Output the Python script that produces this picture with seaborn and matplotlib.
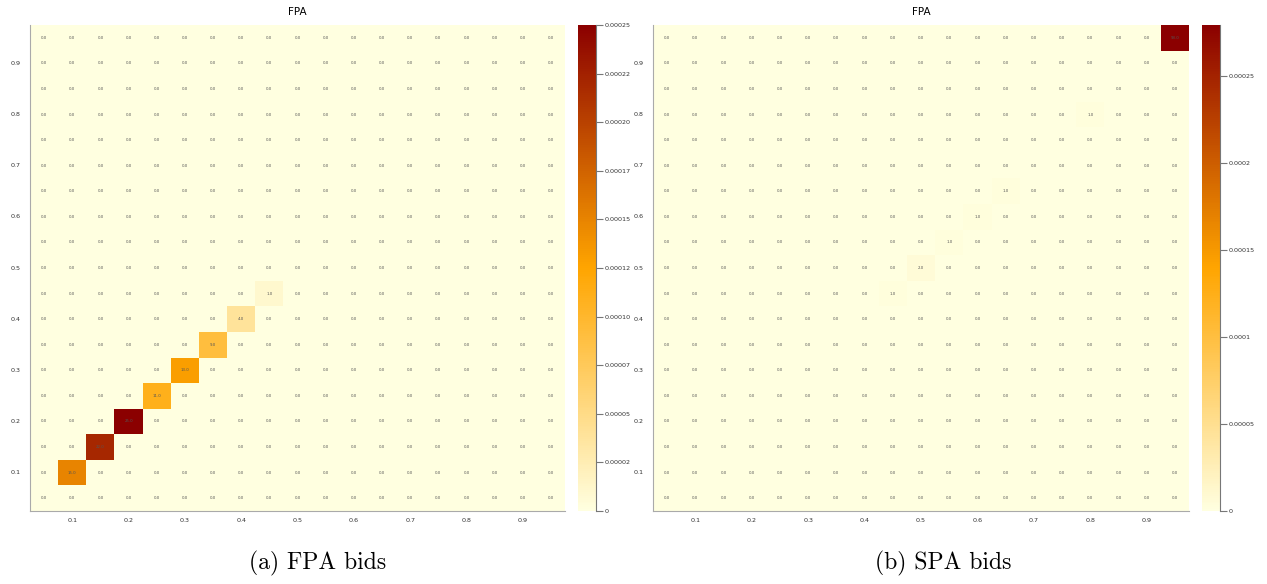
import numpy as np
import pandas as pd
import seaborn as sns
import matplotlib.pyplot as plt
from matplotlib.colors import LinearSegmentedColormap
from matplotlib.ticker import FuncFormatter

# bin centres (same on both axes)
bins = [0.05, 0.1, 0.15, 0.2, 0.25, 0.3, 0.35, 0.4, 0.45, 0.5,
        0.55, 0.6, 0.65, 0.7, 0.75, 0.8, 0.85, 0.9, 0.95]
tick_labels = ['', '0.1', '', '0.2', '', '0.3', '', '0.4', '', '0.5',
               '', '0.6', '', '0.7', '', '0.8', '', '0.9', '']

# non-zero cells: (x bin, y bin, count)
fpa_x = [0.1, 0.15, 0.2, 0.25, 0.3, 0.35, 0.4, 0.45]
fpa_y = [0.1, 0.15, 0.2, 0.25, 0.3, 0.35, 0.4, 0.45]
fpa_counts = [15, 22, 25, 11, 13, 9, 4, 1]
fpa_scale = 1e-5

spa_x = [0.45, 0.5, 0.55, 0.6, 0.65, 0.8, 0.95]
spa_y = [0.45, 0.5, 0.55, 0.6, 0.65, 0.8, 0.95]
spa_counts = [1, 2, 1, 1, 1, 1, 93]
spa_scale = 3e-6

fpa_cbar_ticks = [0, 0.000025, 0.00005, 0.000075, 0.0001, 0.000125,
                  0.00015, 0.000175, 0.0002, 0.000225, 0.00025]
spa_cbar_ticks = [0, 0.00005, 0.0001, 0.00015, 0.0002, 0.00025]


def build(xs, ys, counts):
    m = pd.DataFrame(0.0, index=bins[::-1], columns=bins)
    for x, y, c in zip(xs, ys, counts):
        m.loc[y, x] = c
    return m


cmap = LinearSegmentedColormap.from_list('ylorred', ['#ffffe0', '#ffa500', '#8b0000'])

fig = plt.figure(figsize=(12.67, 5.84), dpi=100)
W, H = 1267, 584


def axes_px(x0, x1, y0=25, y1=511):
    return fig.add_axes([x0 / W, 1 - y1 / H, (x1 - x0) / W, (y1 - y0) / H])


panels = [
    # left panel image is cut at its right edge, so its colorbar labels are clipped
    (build(fpa_x, fpa_y, fpa_counts), fpa_scale, fpa_cbar_ticks,
     lambda v, p: '0' if v == 0 else f'{v:.6f}'[:7], (30, 565), (578, 596)),
    (build(spa_x, spa_y, spa_counts), spa_scale, spa_cbar_ticks,
     lambda v, p: '0' if v == 0 else f'{v:.5f}'.rstrip('0'), (653, 1189), (1202, 1220)),
]

for counts, scale, cticks, cfmt, hx, cx in panels:
    ax = axes_px(*hx)
    cax = axes_px(*cx)
    sns.heatmap(counts * scale, annot=counts.values, fmt='.1f', cmap=cmap,
                vmin=0, ax=ax, cbar_ax=cax,
                xticklabels=tick_labels, yticklabels=tick_labels[::-1],
                annot_kws={'fontsize': 2.8})
    for t in ax.texts:
        t.set_color('#555555')
    ax.set_title('FPA', fontsize=7.5, pad=7)
    ax.tick_params(length=0, labelsize=4.6, labelcolor='#333333', pad=5)
    ax.tick_params(axis='y', rotation=0, pad=7)
    for s in ['left', 'bottom']:
        ax.spines[s].set_visible(True)
        ax.spines[s].set_color('#aaaaaa')
        ax.spines[s].set_linewidth(0.8)

    cax.set_yticks(cticks)
    cax.yaxis.set_major_formatter(FuncFormatter(cfmt))
    cax.tick_params(labelsize=4.6, labelcolor='#333333', color='#777777',
                    length=5, width=0.8, pad=1.5)
    for sp in cax.spines.values():
        sp.set_visible(False)
    cax.plot([1, 1], [0, 1], transform=cax.transAxes, color='#777777',
             lw=0.8, clip_on=False)

fig.text(318 / W, 1 - 563 / H, '(a) FPA bids', fontsize=17, family='cmr10',
         ha='center', va='center')
fig.text(943 / W, 1 - 563 / H, '(b) SPA bids', fontsize=17, family='cmr10',
         ha='center', va='center')

fig.savefig('out.png', dpi=100)
